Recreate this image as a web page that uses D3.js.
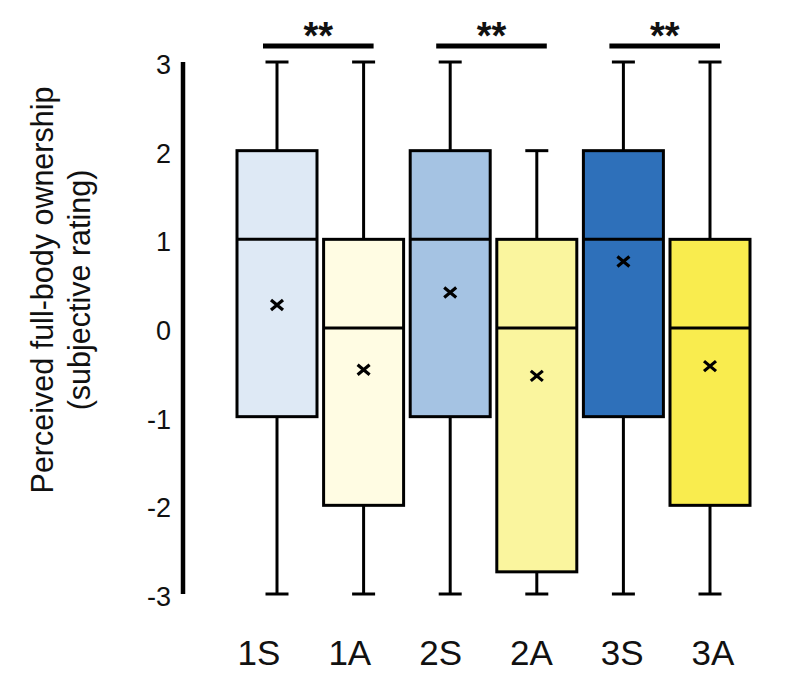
<!DOCTYPE html>
<html>
<head>
<meta charset="utf-8">
<script src="https://cdn.jsdelivr.net/npm/d3@7"></script>
<style>
  html, body { margin: 0; padding: 0; background: #ffffff; }
  svg { display: block; font-family: Arial, "Liberation Sans", sans-serif; }
</style>
</head>
<body>
<svg id="chart" width="800" height="692"></svg>
<script>
// ---- data ----
const categories = ["1S", "1A", "2S", "2A", "3S", "3A"];
const whiskerLow  = [-3, -3, -3, -3, -3, -3];
const q1          = [-1, -2, -1, -2.75, -1, -2];
const medians     = [1, 0, 1, 0, 1, 0];
const q3          = [2, 1, 2, 1, 2, 1];
const whiskerHigh = [3, 3, 3, 2, 3, 3];
const means       = [0.26, -0.47, 0.40, -0.54, 0.75, -0.43];
const colors      = ["#DEE9F5", "#FFFCE3", "#A5C3E3", "#FAF59E", "#2E70BA", "#F9EC4E"];
const yTicks      = [3, 2, 1, 0, -1, -2, -3];
const sigPairs    = [["1S", "1A"], ["2S", "2A"], ["3S", "3A"]];
const sigLabels   = ["**", "**", "**"];
const yTitle      = ["Perceived full-body ownership", "(subjective rating)"];

const svg = d3.select("#chart");

const y = d3.scaleLinear().domain([-3, 3]).range([594, 62]);
const x = d3.scalePoint().domain(categories).range([277, 710]);
const xLabel = d3.scalePoint().domain(categories).range([259, 713]);
const boxW = 80, capW = 23;

const data = categories.map((c, i) => ({
  c, lo: whiskerLow[i], q1: q1[i], med: medians[i], q3: q3[i], hi: whiskerHigh[i],
  mean: means[i], color: colors[i]
}));

// y axis line
svg.append("line")
  .attr("x1", 183).attr("x2", 183)
  .attr("y1", y(3)).attr("y2", y(-3))
  .attr("stroke", "#000").attr("stroke-width", 4.5);

// y tick labels
svg.append("g").selectAll("text").data(yTicks).join("text")
  .attr("x", 171)
  .attr("y", d => y(d) + 3)
  .attr("text-anchor", "end")
  .attr("dominant-baseline", "central")
  .attr("font-size", 27)
  .attr("fill", "#111")
  .text(d => d);

// y title
const tg = svg.append("g").attr("transform", "translate(0,290) rotate(-90)");
tg.selectAll("text").data(yTitle).join("text")
  .attr("x", 0)
  .attr("y", (d, i) => 53 + i * 37)
  .attr("text-anchor", "middle")
  .attr("font-size", 30.5)
  .attr("fill", "#111")
  .text(d => d);

// boxes
const g = svg.append("g").selectAll("g").data(data).join("g");

// whiskers
g.append("line")
  .attr("x1", d => x(d.c)).attr("x2", d => x(d.c))
  .attr("y1", d => y(d.hi)).attr("y2", d => y(d.q3))
  .attr("stroke", "#000").attr("stroke-width", 3);
g.append("line")
  .attr("x1", d => x(d.c)).attr("x2", d => x(d.c))
  .attr("y1", d => y(d.q1)).attr("y2", d => y(d.lo))
  .attr("stroke", "#000").attr("stroke-width", 3);
// caps
g.append("line")
  .attr("x1", d => x(d.c) - capW / 2).attr("x2", d => x(d.c) + capW / 2)
  .attr("y1", d => y(d.hi)).attr("y2", d => y(d.hi))
  .attr("stroke", "#000").attr("stroke-width", 3);
g.append("line")
  .attr("x1", d => x(d.c) - capW / 2).attr("x2", d => x(d.c) + capW / 2)
  .attr("y1", d => y(d.lo)).attr("y2", d => y(d.lo))
  .attr("stroke", "#000").attr("stroke-width", 3);
// box
g.append("rect")
  .attr("x", d => x(d.c) - boxW / 2)
  .attr("width", boxW)
  .attr("y", d => y(d.q3))
  .attr("height", d => y(d.q1) - y(d.q3))
  .attr("fill", d => d.color)
  .attr("stroke", "#000").attr("stroke-width", 3);
// median
g.append("line")
  .attr("x1", d => x(d.c) - boxW / 2).attr("x2", d => x(d.c) + boxW / 2)
  .attr("y1", d => y(d.med)).attr("y2", d => y(d.med))
  .attr("stroke", "#000").attr("stroke-width", 3);
// mean X
const mx = 6, my = 5;
g.append("path")
  .attr("d", d => {
    const cx = x(d.c), cy = y(d.mean);
    return `M${cx - mx},${cy - my}L${cx + mx},${cy + my}M${cx - mx},${cy + my}L${cx + mx},${cy - my}`;
  })
  .attr("stroke", "#000").attr("stroke-width", 3.2).attr("fill", "none");

// x labels
svg.append("g").selectAll("text").data(categories).join("text")
  .attr("x", d => xLabel(d))
  .attr("y", 665)
  .attr("text-anchor", "middle")
  .attr("font-size", 35)
  .attr("fill", "#111")
  .text(d => d);

// significance bars
const barY = 46;
const sg = svg.append("g").selectAll("g").data(sigPairs).join("g");
sg.append("line")
  .attr("x1", d => x(d[0]) - 14).attr("x2", d => x(d[1]) + 10)
  .attr("y1", barY).attr("y2", barY)
  .attr("stroke", "#000").attr("stroke-width", 5);
sg.append("text")
  .attr("x", d => (x(d[0]) - 14 + x(d[1]) + 10) / 2)
  .attr("y", barY + 3)
  .attr("text-anchor", "middle")
  .attr("font-size", 38)
  .attr("font-weight", "bold")
  .attr("fill", "#111")
  .text((d, i) => sigLabels[i]);
</script>
</body>
</html>
